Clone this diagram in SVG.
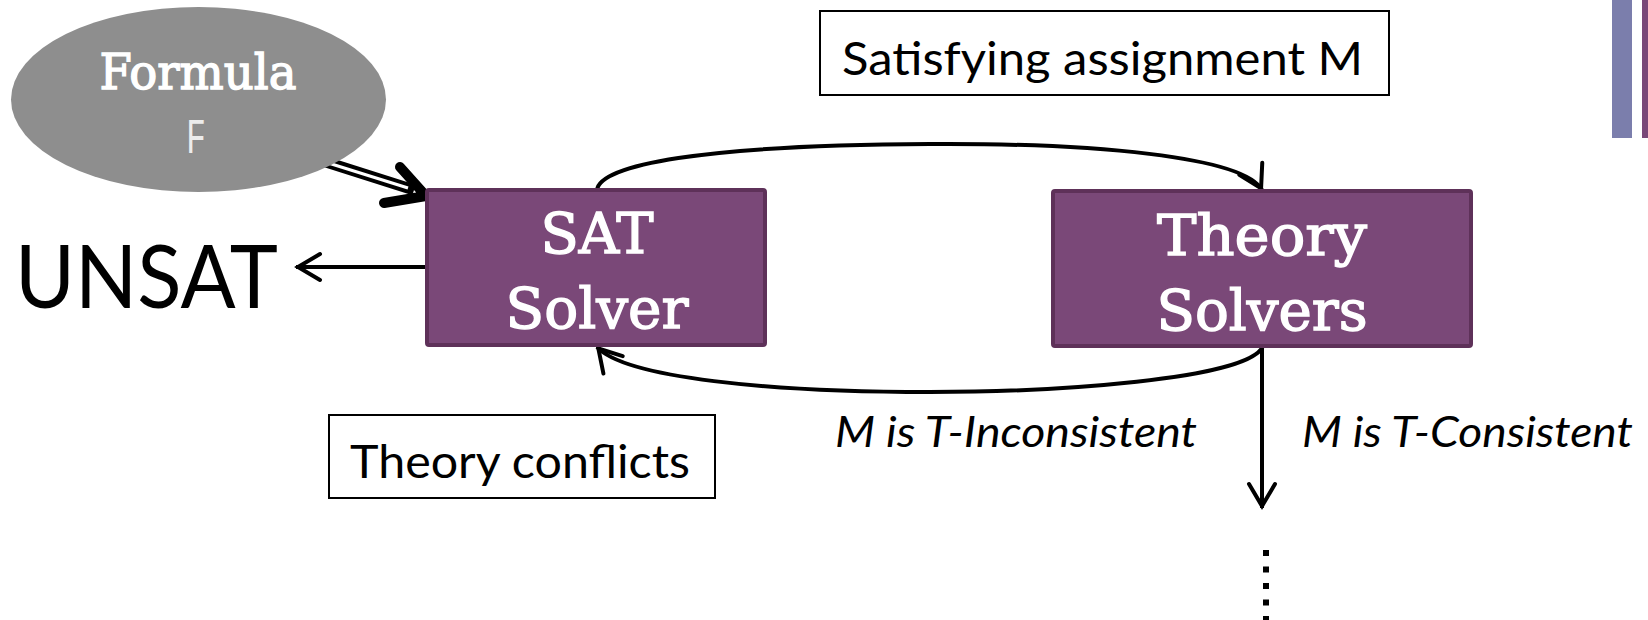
<svg xmlns="http://www.w3.org/2000/svg" width="1648" height="620" viewBox="0 0 1648 620">
<style>
.box{fill:#7a4878;stroke:#5e3159;stroke-width:4}
.slab{font-family:"DejaVu Serif","Liberation Serif",serif;fill:#ffffff;stroke:#ffffff;stroke-width:1.4;text-anchor:middle}
.sans{font-family:Lato,"Open Sans",sans-serif;fill:#000000}
.lbl{fill:#ffffff;stroke:#000000;stroke-width:2}
.conn{fill:none;stroke:#000000;stroke-width:4}
</style>
<defs>
<marker id="arr" markerUnits="userSpaceOnUse" viewBox="-30 -20 40 40" markerWidth="40" markerHeight="40" refX="2" refY="0" orient="auto" overflow="visible">
<path d="M -22 -13 L 0 0 L -22 13" fill="none" stroke="#000" stroke-width="4" stroke-linecap="round" stroke-linejoin="miter"/>
</marker>
</defs>
<rect x="1612" y="0" width="20" height="138" fill="#7b7eac"/>
<rect x="1642" y="0" width="6" height="138" fill="#7a4878"/>
<g id="connectors">
<line x1="326" y1="162" x2="414" y2="190" stroke="#000" stroke-width="11"/>
<line x1="322" y1="161" x2="408" y2="188" stroke="#fff" stroke-width="3"/>
<path d="M 400 167 L 426 196 L 384 203" fill="none" stroke="#000" stroke-width="10" stroke-linecap="round" stroke-linejoin="round"/>
<line class="conn" x1="426" y1="267" x2="296" y2="267" marker-end="url(#arr)"/>
<path class="conn" d="M 597 190 C 600 165, 700 145, 930 144 C 1090 143, 1244 156, 1262 190" marker-end="url(#arr)"/>
<path class="conn" d="M 1263 346 C 1250 380, 1050 392, 930 392 C 770 392, 625 378, 597 347" marker-end="url(#arr)"/>
<line class="conn" x1="1262" y1="346" x2="1262" y2="508" marker-end="url(#arr)"/>
<line x1="1266" y1="550" x2="1266" y2="620" stroke="#000" stroke-width="6" stroke-dasharray="6 10.5"/>
</g>
<g id="formula">
<ellipse cx="198.5" cy="99.5" rx="187.5" ry="92.5" fill="#8e8e8e"/>
<text class="slab" x="198" y="89" font-size="49" textLength="197" lengthAdjust="spacingAndGlyphs">Formula</text>
<text x="196" y="153" font-family="'Liberation Mono',monospace" font-size="50" fill="#ececec" text-anchor="middle" textLength="20" lengthAdjust="spacingAndGlyphs">F</text>
</g>
<g id="sat-solver">
<rect class="box" x="427" y="190" width="338" height="155" rx="2"/>
<text class="slab" x="597" y="253" font-size="56" textLength="113" lengthAdjust="spacingAndGlyphs">SAT</text>
<text class="slab" x="597" y="328" font-size="56" textLength="183" lengthAdjust="spacingAndGlyphs">Solver</text>
</g>
<g id="theory-solvers">
<rect class="box" x="1053" y="191" width="418" height="155" rx="2"/>
<text class="slab" x="1262" y="255" font-size="56" textLength="210" lengthAdjust="spacingAndGlyphs">Theory</text>
<text class="slab" x="1262" y="330" font-size="56" textLength="211" lengthAdjust="spacingAndGlyphs">Solvers</text>
</g>
<g id="unsat">
<text class="sans" x="15" y="308" font-size="88" textLength="263" lengthAdjust="spacingAndGlyphs">UNSAT</text>
</g>
<g id="satisfying-assignment">
<rect class="lbl" x="820" y="11" width="569" height="84"/>
<text class="sans" x="842" y="75" font-size="47" textLength="521" lengthAdjust="spacingAndGlyphs">Satisfying assignment M</text>
</g>
<g id="theory-conflicts">
<rect class="lbl" x="329" y="415" width="386" height="83"/>
<text class="sans" x="350" y="478" font-size="47" textLength="340" lengthAdjust="spacingAndGlyphs">Theory conflicts</text>
</g>
<g id="inconsistent-label">
<text class="sans" x="835" y="447" font-size="42" font-style="italic" textLength="362" lengthAdjust="spacingAndGlyphs">M is T-Inconsistent</text>
</g>
<g id="consistent-label">
<text class="sans" x="1302" y="447" font-size="42" font-style="italic" textLength="331" lengthAdjust="spacingAndGlyphs">M is T-Consistent</text>
</g>
</svg>
